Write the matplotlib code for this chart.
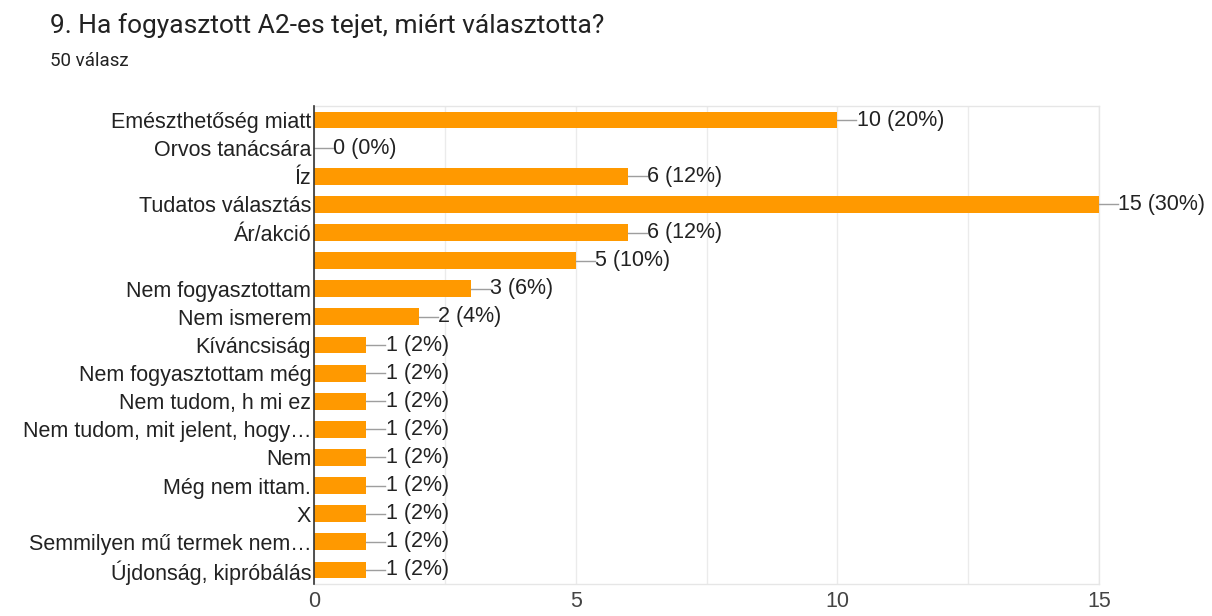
import numpy as np
import matplotlib
matplotlib.use('Agg')
import matplotlib.pyplot as plt

# Survey answers (Google Forms style summary)
labels = [
    'Emészthetőség miatt', 'Orvos tanácsára', 'Íz', 'Tudatos választás',
    'Ár/akció', '', 'Nem fogyasztottam', 'Nem ismerem', 'Kíváncsiság',
    'Nem fogyasztottam még', 'Nem tudom, h mi ez',
    'Nem tudom, mit jelent, hogy…', 'Nem', 'Még nem ittam.', 'X',
    'Semmilyen mű termek nem…', 'Újdonság, kipróbálás',
]
counts = [10, 0, 6, 15, 6, 5, 3, 2, 1, 1, 1, 1, 1, 1, 1, 1, 1]
total = 50
xticks = [0, 5, 10, 15]

ORANGE = '#ff9900'
TEXT = '#222222'
FS = 15.5

fig = plt.figure(figsize=(12.12, 6.16), dpi=100)
ax = fig.add_axes([314 / 1212, 1 - 584 / 616, 785 / 1212, 478 / 616])

y = np.arange(len(labels))
ax.barh(y, counts, height=0.6, color=ORANGE, zorder=3)

# value labels with a short leader line
for yi, c in zip(y, counts):
    ax.plot([c, c + 0.36], [yi, yi], color='#9e9e9e', lw=1, zorder=3,
            clip_on=False)
    ax.text(c + 0.37, yi, f'{c} ({c * 100 // total}%)', va='center',
            ha='left', fontsize=FS, color=TEXT, family='Liberation Sans',
            zorder=4, clip_on=False)

ax.set_xlim(0, 15)
ax.set_ylim(len(labels) - 0.5, -0.5)
ax.set_yticks(y)
ax.set_yticklabels(labels, fontsize=FS, color=TEXT, family='Liberation Sans')
ax.set_xticks(xticks)
ax.set_xticklabels([str(t) for t in xticks], fontsize=FS, color='#444444',
                   family='Liberation Sans')
ax.set_xticks(np.arange(0, 15.01, 2.5), minor=True)
ax.tick_params(axis='both', which='both', length=0)
ax.tick_params(axis='x', pad=5)
ax.tick_params(axis='y', pad=2)
ax.grid(axis='x', which='both', color='#ebebeb', lw=1, zorder=0)

for side in ['top', 'right', 'bottom']:
    ax.spines[side].set_color('#e6e6e6')
    ax.spines[side].set_linewidth(1)
ax.spines['left'].set_color('#333333')
ax.spines['left'].set_linewidth(1.2)
ax.spines['left'].set_zorder(5)

fig.text(50 / 1212, 1 - 26 / 616, '9. Ha fogyasztott A2-es tejet, miért választotta?',
         fontsize=19, family='Roboto', color=TEXT, va='center', ha='left')
fig.text(50 / 1212, 1 - 61 / 616, '50 válasz', fontsize=13.5, family='Roboto',
         color=TEXT, va='center', ha='left')

fig.savefig('out.png', dpi=100)
